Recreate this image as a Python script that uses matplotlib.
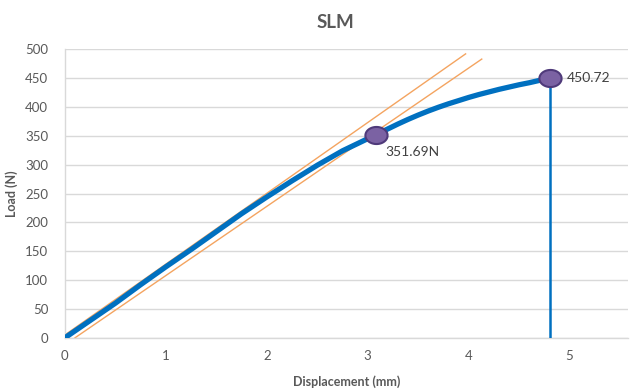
import matplotlib
matplotlib.use("Agg")
import matplotlib.pyplot as plt
from matplotlib.path import Path
import numpy as np

plt.rcParams['font.family'] = ['Lato', 'DejaVu Sans']

# Load-displacement record (mm, N)
displacement = [0.0, 0.25, 0.5, 0.75, 1.0, 1.25, 1.5, 1.75, 2.0, 2.25, 2.5,
                2.75, 3.0, 3.08, 3.2, 3.3, 3.4, 3.5, 3.6, 3.7, 3.8, 3.9,
                4.0, 4.1, 4.2, 4.3, 4.4, 4.5, 4.6, 4.7, 4.81]
load = [0.0, 30, 60, 92, 123, 153, 184, 215, 244, 272, 299,
        324, 345, 351.69, 362, 370.5, 378.5, 386, 393, 399.5, 405.5, 411,
        416.5, 421.5, 426, 430.5, 434.5, 438.5, 442, 446, 450.72]

# Elastic tangent and 0.2%-style offset line
tangent_x = [0.0, 3.97]
tangent_y = [5.0, 492.0]
offset_x = [0.1, 4.13]
offset_y = [0.0, 483.0]

# Highlighted points: yield and maximum
yield_x, yield_load = 3.08, 351.69
max_x, max_load = 4.81, 450.72

x_ticks = [0, 1, 2, 3, 4, 5]
y_ticks = [0, 50, 100, 150, 200, 250, 300, 350, 400, 450, 500]

blue = '#0070C0'
orange = '#F4A460'
grey_text = '#595959'

fig = plt.figure(figsize=(6.3, 3.91), dpi=100)
ax = fig.add_axes([0.103, 0.136, 0.894, 0.738])

ax.plot(tangent_x, tangent_y, color=orange, lw=1.0, zorder=2)
ax.plot(offset_x, offset_y, color=orange, lw=1.0, zorder=2)
ax.plot(displacement, load, color=blue, lw=3.8, zorder=3,
        solid_capstyle='butt', solid_joinstyle='round')
ax.plot([max_x, max_x], [0, max_load], color=blue, lw=1.8, zorder=3)

# Slightly wide elliptical marker
t = np.linspace(0, 2 * np.pi, 60)
ellipse = Path(np.column_stack([1.3 * np.cos(t), np.sin(t)]))
ax.plot([yield_x, max_x], [yield_load, max_load], linestyle='none',
        marker=ellipse, markersize=16, markerfacecolor='#7B62A3',
        markeredgecolor='#4F3A7A', markeredgewidth=1.5, zorder=4)

ax.annotate(f'{yield_load:.2f}N', (yield_x, yield_load), xytext=(7, -12),
            textcoords='offset points', fontsize=10, color='#404040',
            va='center', ha='left')
ax.annotate(f'{max_load:.2f}', (max_x, max_load), xytext=(12, 0),
            textcoords='offset points', fontsize=10, color='#404040',
            va='center', ha='left')

ax.set_xlim(0, 5.58)
ax.set_ylim(0, 500)
ax.set_xticks(x_ticks)
ax.set_yticks(y_ticks)
ax.grid(axis='y', color='#D9D9D9', lw=1.0)
ax.set_axisbelow(True)
for side in ['top', 'right']:
    ax.spines[side].set_visible(False)
for side in ['left', 'bottom']:
    ax.spines[side].set_color('#D9D9D9')
    ax.spines[side].set_linewidth(1.0)
ax.tick_params(length=0, labelsize=9.5, labelcolor=grey_text)
ax.tick_params(axis='y', pad=12)
ax.tick_params(axis='x', pad=9)

ax.set_xlabel('Displacement (mm)', fontsize=9, fontweight='bold',
              color=grey_text, labelpad=9)
ax.set_ylabel('Load (N)', fontsize=9, fontweight='bold', color=grey_text,
              labelpad=5)
fig.text(335 / 630, 1 - 22 / 391, 'SLM', fontsize=13.5, fontweight='bold',
         color=grey_text, ha='center', va='center')

fig.savefig('out.png', dpi=100, facecolor='white')
